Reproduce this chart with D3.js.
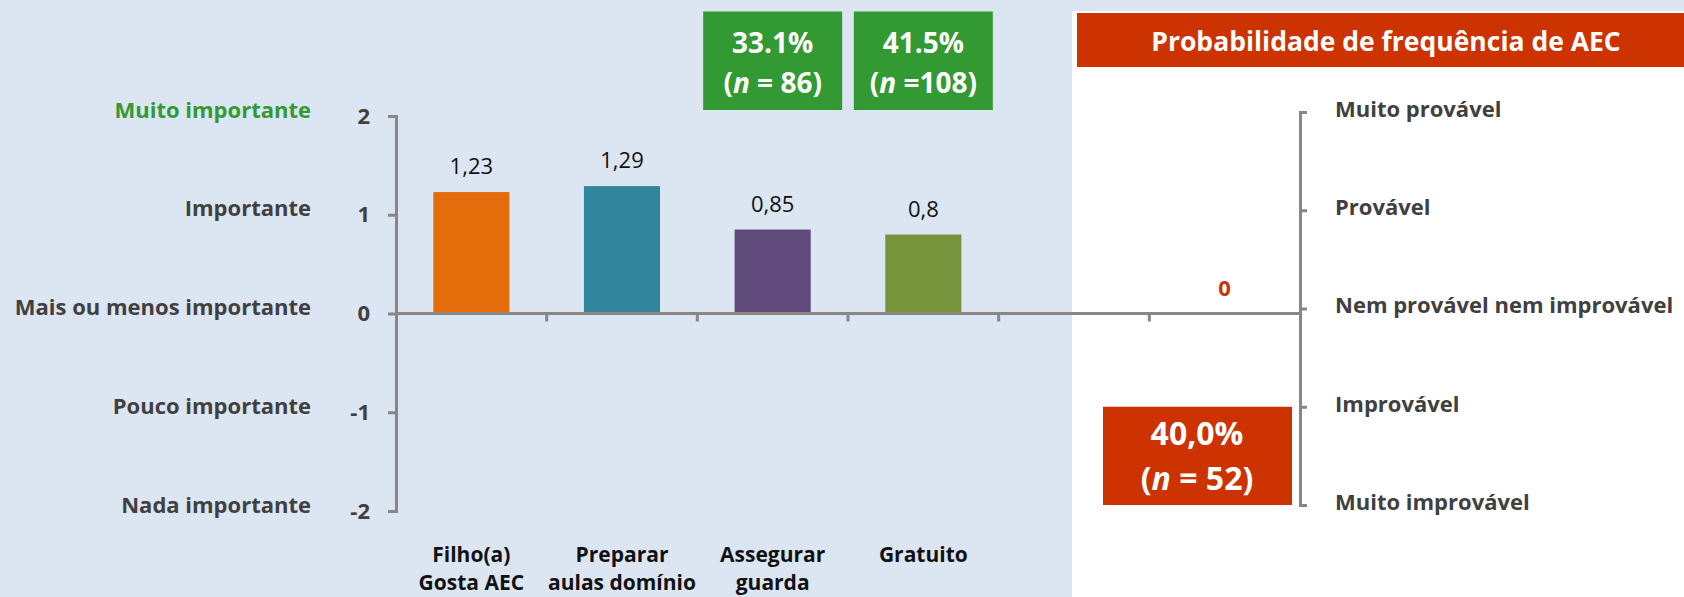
<!DOCTYPE html>
<html>
<head>
<meta charset="utf-8">
<title>Importância das AEC e probabilidade de frequência</title>
<script src="https://d3js.org/d3.v7.min.js"></script>
<style>
  body { margin: 0; background: #dce6f2; }
  svg { display: block; font-family: "Open Sans", sans-serif; }
</style>
</head>
<body>
<div id="chart"></div>
<script>
// data
const categories = ["gosta", "preparar", "guarda", "gratuito", "vazio", "frequencia"];
const categoryLabels = [["Filho(a)", "Gosta AEC"], ["Preparar", "aulas domínio"], ["Assegurar", "guarda"], ["Gratuito"], [], []];
const values = [1.23, 1.29, 0.85, 0.8, null, 0];
const colors = ["#e46c0a", "#31859c", "#604a7b", "#77933c", null, null];

const scaleTicks = [-2, -1, 0, 1, 2];
const importanceLabels = ["Nada importante", "Pouco importante", "Mais ou menos importante", "Importante", "Muito importante"];
const probabilityLabels = ["Muito improvável", "Improvável", "Nem provável nem improvável", "Provável", "Muito provável"];

const boxCategories = ["guarda", "gratuito"];
const boxPercents = ["33.1%", "41.5%"];
const boxCounts = [" = 86)", " =108)"];

const aecTitle = "Probabilidade de frequência de AEC";
const aecPercent = "40,0%";
const aecCount = " = 52)";
const aecRange = [-2, -1];

// layout
const W = 1684, H = 597;
const axisGray = "#878787";
const textGray = "#404040";
const green = "#339933";
const red = "#cc3300";

const svg = d3.select("#chart").append("svg")
  .attr("width", W)
  .attr("height", H);

// backgrounds: light blue slide, white panel on the right
svg.append("rect").attr("width", W).attr("height", H).attr("fill", "#dce6f2");
svg.append("rect").attr("x", 1072).attr("y", 11)
  .attr("width", W - 1072).attr("height", H - 11).attr("fill", "#fff");

const x = d3.scaleBand().domain(categories).range([396, 1300]);
const y = d3.scaleLinear().domain([-2, 2]).range([511, 116]);
const y2 = d3.scaleLinear().domain([-2, 2]).range([505, 112]);

function styleAxis(g) {
  g.attr("font-family", null).attr("font-size", null);
  g.select(".domain").attr("stroke", axisGray).attr("stroke-width", 3);
  g.selectAll(".tick line").attr("stroke", axisGray).attr("stroke-width", 3);
  g.selectAll(".tick text")
    .attr("fill", textGray)
    .attr("font-size", 22)
    .attr("font-weight", 700);
}

// left axis (importance)
svg.append("g")
  .attr("transform", "translate(396,0)")
  .call(d3.axisLeft(y).tickValues(scaleTicks).tickSize(8).tickSizeOuter(8)
    .tickPadding(18).tickFormat(d => String(d)))
  .call(styleAxis);

svg.append("g").selectAll("text")
  .data(scaleTicks)
  .join("text")
  .attr("x", 311)
  .attr("y", d => y(d) - 6)
  .attr("dy", "0.35em")
  .attr("text-anchor", "end")
  .attr("font-size", 22)
  .attr("font-weight", 700)
  .attr("fill", d => d === 2 ? green : textGray)
  .text((d, i) => importanceLabels[i]);

// right axis (probability)
svg.append("g")
  .attr("transform", "translate(1300,0)")
  .call(d3.axisRight(y2).tickValues(scaleTicks).tickSize(7).tickSizeOuter(7)
    .tickPadding(28).tickFormat((d, i) => probabilityLabels[i]))
  .call(styleAxis)
  .call(g => g.selectAll(".tick text").attr("dy", "0.2em"));

// red box on the right scale
svg.append("rect")
  .attr("x", 1103)
  .attr("y", y2(aecRange[1]))
  .attr("width", 189)
  .attr("height", y2(aecRange[0]) - y2(aecRange[1]))
  .attr("fill", red);

const aecText = svg.append("g").attr("fill", "#fff").attr("font-weight", 700)
  .attr("font-size", 32).attr("text-anchor", "middle");
aecText.append("text").attr("x", 1197).attr("y", 445).text(aecPercent);
const aecN = aecText.append("text").attr("x", 1197).attr("y", 490);
aecN.append("tspan").text("(");
aecN.append("tspan").attr("font-style", "italic").text("n");
aecN.append("tspan").text(aecCount);

// bars
const rows = categories.map((c, i) => ({ c, v: values[i], color: colors[i] }));
const bw = x.bandwidth() * 0.505;

svg.append("g").selectAll("rect")
  .data(rows.filter(d => d.color))
  .join("rect")
  .attr("x", d => x(d.c) + (x.bandwidth() - bw) / 2)
  .attr("y", d => y(d.v))
  .attr("width", bw)
  .attr("height", d => y(0) - y(d.v))
  .attr("fill", d => d.color);

svg.append("g").selectAll("text")
  .data(rows.filter(d => d.v !== null))
  .join("text")
  .attr("x", d => x(d.c) + x.bandwidth() / 2)
  .attr("y", d => y(d.v) - 18)
  .attr("text-anchor", "middle")
  .attr("font-size", 22)
  .attr("font-weight", d => d.color ? 400 : 700)
  .attr("fill", d => d.color ? "#111" : red)
  .text(d => String(d.v).replace(".", ","));

// x axis along zero with ticks between categories
const xa = svg.append("g").attr("stroke", axisGray).attr("stroke-width", 3);
xa.append("line")
  .attr("x1", x.range()[0]).attr("x2", x.range()[1])
  .attr("y1", y(0)).attr("y2", y(0));
xa.selectAll(".xt")
  .data(categories.slice(1))
  .join("line")
  .attr("class", "xt")
  .attr("x1", d => x(d)).attr("x2", d => x(d))
  .attr("y1", y(0)).attr("y2", y(0) + 8);

// category labels under the chart
const cl = svg.append("g").selectAll("text")
  .data(rows)
  .join("text")
  .attr("x", d => x(d.c) + x.bandwidth() / 2)
  .attr("y", 562)
  .attr("text-anchor", "middle")
  .attr("font-size", 21)
  .attr("font-weight", 700)
  .attr("fill", "#111");
cl.selectAll("tspan")
  .data((d, i) => categoryLabels[i])
  .join("tspan")
  .attr("x", function() { return this.parentNode.getAttribute("x"); })
  .attr("dy", (d, i) => i ? 28 : 0)
  .text(d => d);

// green percentage boxes above two bars
const boxes = svg.append("g").selectAll("g")
  .data(boxCategories)
  .join("g")
  .attr("transform", d => `translate(${x(d) + x.bandwidth() / 2},0)`);
boxes.append("rect")
  .attr("x", -69.5).attr("y", 11.5)
  .attr("width", 139).attr("height", 98.5)
  .attr("fill", green);
boxes.append("text")
  .attr("y", 53)
  .attr("text-anchor", "middle")
  .attr("fill", "#fff").attr("font-size", 28).attr("font-weight", 700)
  .text((d, i) => boxPercents[i]);
const bn = boxes.append("text")
  .attr("y", 93)
  .attr("text-anchor", "middle")
  .attr("fill", "#fff").attr("font-size", 28).attr("font-weight", 700);
bn.append("tspan").text("(");
bn.append("tspan").attr("font-style", "italic").text("n");
bn.append("tspan").text((d, i) => boxCounts[i]);

// title box on the right panel
svg.append("rect")
  .attr("x", 1077).attr("y", 13)
  .attr("width", W - 1077).attr("height", 54)
  .attr("fill", red);
svg.append("text")
  .attr("x", 1386).attr("y", 51)
  .attr("text-anchor", "middle")
  .attr("fill", "#fff").attr("font-size", 26.5).attr("font-weight", 700)
  .text(aecTitle);
</script>
</body>
</html>
